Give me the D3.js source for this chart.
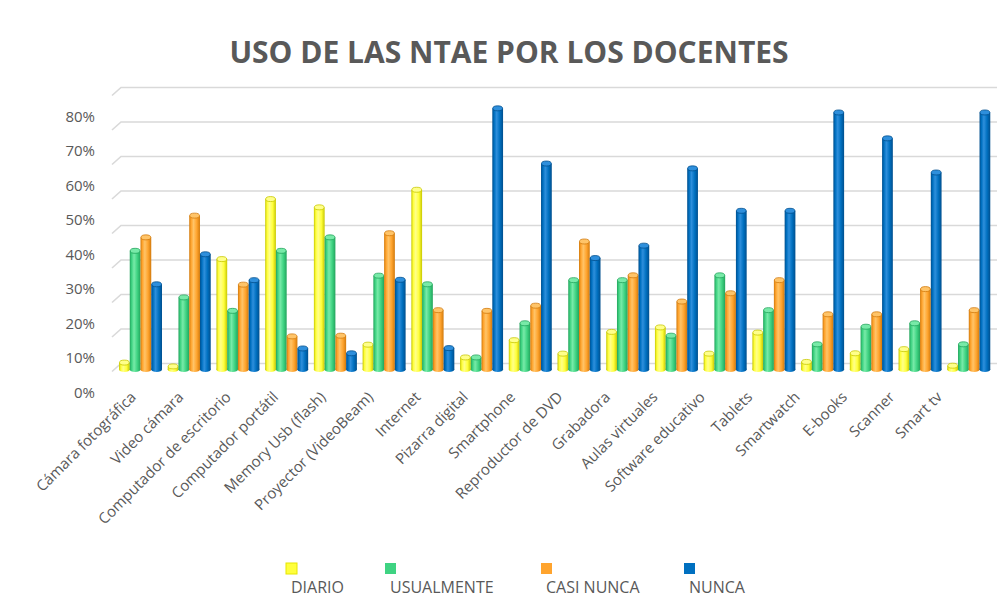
<!DOCTYPE html>
<html>
<head>
<meta charset="utf-8">
<script src="https://cdn.jsdelivr.net/npm/d3@7"></script>
<style>
	body { margin: 0; background: #ffffff; }
	text { font-family: "Open Sans", "Noto Sans", sans-serif; fill: #595959; }
</style>
</head>
<body>
<div id="chart"></div>
<script>

///////////////////////////////////////////////////////////////////////////
//////////////////////////////// Data /////////////////////////////////////
///////////////////////////////////////////////////////////////////////////

var categories = ["Cámara fotográfica", "Video cámara", "Computador de escritorio", "Computador portátil",
	"Memory Usb (flash)", "Proyector (VideoBeam)", "Internet", "Pizarra digital", "Smartphone",
	"Reproductor de DVD", "Grabadora", "Aulas virtuales", "Software educativo", "Tablets",
	"Smartwatch", "E-books", "Scanner", "Smart tv"];

var seriesNames = ["DIARIO", "USUALMENTE", "CASI NUNCA", "NUNCA"];

//percentages per category
var diario     = [2.0, 0.9, 32.0, 49.4, 47.0, 7.2, 52.1, 3.5, 8.5, 4.6, 10.9, 12.2, 4.6, 10.7, 2.2, 4.7, 5.9, 1.1];
var usualmente = [34.4, 20.9, 17.0, 34.4, 38.3, 27.2, 24.7, 3.5, 13.4, 25.9, 25.9, 9.8, 27.3, 17.2, 7.3, 12.4, 13.4, 7.3];
var casiNunca  = [38.3, 44.6, 24.6, 9.6, 9.8, 39.5, 17.2, 17.0, 18.5, 37.1, 27.3, 19.7, 22.1, 25.9, 16.0, 16.0, 23.3, 17.2];
var nunca      = [24.7, 33.4, 25.9, 6.1, 4.7, 26.0, 6.2, 75.7, 59.7, 32.3, 35.9, 58.3, 46.0, 46.0, 74.5, 67.0, 57.1, 74.5];

var yTicks = [0, 10, 20, 30, 40, 50, 60, 70, 80];

var seriesValues = [diario, usualmente, casiNunca, nunca];

///////////////////////////////////////////////////////////////////////////
////////////////////////////// Set up svg /////////////////////////////////
///////////////////////////////////////////////////////////////////////////

var width = 1006,
	height = 598;

var svg = d3.select("#chart")
	.append("svg")
	.attr("width", width)
	.attr("height", height);

svg.append("rect")
	.attr("width", width)
	.attr("height", height)
	.style("fill", "#ffffff");

//colours per series: main, dark edge, light highlight
var colors = [
	{ main: "#ffff3c", dark: "#c8c800", light: "#ffff8a" },
	{ main: "#3fd382", dark: "#22a45c", light: "#78eaa8" },
	{ main: "#ffa42e", dark: "#d27a0c", light: "#ffc468" },
	{ main: "#0070c0", dark: "#004f8e", light: "#2e8fdc" }
];

//Scales
var x0 = d3.scaleBand()
	.domain(categories)
	.range([114, 991]);

var x1 = d3.scaleBand()
	.domain(seriesNames)
	.range([5, 48]);

var y = d3.scaleLinear()
	.domain([0, 80])
	.range([369.5, 93.5]);

//the category labels sit on the front edge of the floor, which is a bit narrower
var xLabel = d3.scalePoint()
	.domain(categories)
	.range([137, 943]);

var depthX = 9,
	depthY = 8;

///////////////////////////////////////////////////////////////////////////
//////////////////////////////// Title ////////////////////////////////////
///////////////////////////////////////////////////////////////////////////

svg.append("text")
	.attr("x", 509)
	.attr("y", 63)
	.style("text-anchor", "middle")
	.style("font-size", "30px")
	.style("font-weight", "bold")
	.text("USO DE LAS NTAE POR LOS DOCENTES");

///////////////////////////////////////////////////////////////////////////
/////////////////////////////// Gridlines /////////////////////////////////
///////////////////////////////////////////////////////////////////////////

svg.append("g").attr("class", "grid")
	.selectAll("path")
	.data(yTicks)
	.enter().append("path")
	.attr("d", function(d) {
		var yf = y(d) + 2;
		return "M112," + yf + "L" + (112 + depthX) + "," + (yf - depthY) + "L997," + (yf - depthY);
	})
	.style("fill", "none")
	.style("stroke", "#d9d9d9")
	.style("stroke-width", 1.6);

svg.append("g").attr("class", "yAxis")
	.selectAll("text")
	.data(yTicks)
	.enter().append("text")
	.attr("x", 95)
	.attr("y", function(d) { return y(d) + 28; })
	.style("text-anchor", "end")
	.style("font-size", "15px")
	.text(function(d) { return d + "%"; });

///////////////////////////////////////////////////////////////////////////
//////////////////////////// Cylinder bars ////////////////////////////////
///////////////////////////////////////////////////////////////////////////

var defs = svg.append("defs");
colors.forEach(function(c, i) {
	var grad = defs.append("linearGradient")
		.attr("id", "cyl-" + i)
		.attr("x1", "0%").attr("x2", "100%")
		.attr("y1", "0%").attr("y2", "0%");
	grad.append("stop").attr("offset", "0%").attr("stop-color", c.dark);
	grad.append("stop").attr("offset", "18%").attr("stop-color", c.main);
	grad.append("stop").attr("offset", "40%").attr("stop-color", c.light);
	grad.append("stop").attr("offset", "70%").attr("stop-color", c.main);
	grad.append("stop").attr("offset", "100%").attr("stop-color", c.dark);
});

var barData = [];
categories.forEach(function(cat, ci) {
	seriesNames.forEach(function(s, si) {
		barData.push({ cat: cat, series: s, si: si, value: seriesValues[si][ci] });
	});
});

var w = x1.bandwidth(),
	ry = 2.5;

var bars = svg.append("g").attr("class", "bars")
	.selectAll(".bar")
	.data(barData)
	.enter().append("g")
	.attr("class", "bar")
	.attr("transform", function(d) { return "translate(" + (x0(d.cat) + x1(d.series)) + ",0)"; });

//bottom cap
bars.append("ellipse")
	.attr("cx", w / 2)
	.attr("cy", y(0))
	.attr("rx", w / 2)
	.attr("ry", ry)
	.style("fill", function(d) { return "url(#cyl-" + d.si + ")"; });

//body
bars.append("rect")
	.attr("x", 0)
	.attr("y", function(d) { return y(d.value); })
	.attr("width", w)
	.attr("height", function(d) { return y(0) - y(d.value); })
	.style("fill", function(d) { return "url(#cyl-" + d.si + ")"; });

//top cap
bars.append("ellipse")
	.attr("cx", w / 2)
	.attr("cy", function(d) { return y(d.value); })
	.attr("rx", w / 2 - 0.5)
	.attr("ry", ry)
	.style("fill", function(d) { return colors[d.si].light; })
	.style("stroke", function(d) { return colors[d.si].dark; })
	.style("stroke-width", 0.8);

///////////////////////////////////////////////////////////////////////////
/////////////////////////// Category labels ///////////////////////////////
///////////////////////////////////////////////////////////////////////////

svg.append("g").attr("class", "xAxis")
	.selectAll("text")
	.data(categories)
	.enter().append("text")
	.attr("transform", function(d) { return "translate(" + xLabel(d) + ",398) rotate(-45)"; })
	.style("text-anchor", "end")
	.style("font-size", "15px")
	.text(function(d) { return d; });

///////////////////////////////////////////////////////////////////////////
//////////////////////////////// Legend ///////////////////////////////////
///////////////////////////////////////////////////////////////////////////

var legendX = [286, 385, 541, 684];

var legend = svg.append("g").attr("class", "legend")
	.selectAll("g")
	.data(seriesNames)
	.enter().append("g")
	.attr("transform", function(d, i) { return "translate(" + legendX[i] + ",563)"; });

legend.append("rect")
	.attr("width", 11)
	.attr("height", 11)
	.style("fill", function(d, i) { return colors[i].main; })
	.style("stroke", function(d, i) { return i === 0 ? "#e6e600" : "none"; });

legend.append("text")
	.attr("x", 5)
	.attr("y", 30)
	.style("font-size", "16px")
	.text(function(d) { return d; });

</script>
</body>
</html>
